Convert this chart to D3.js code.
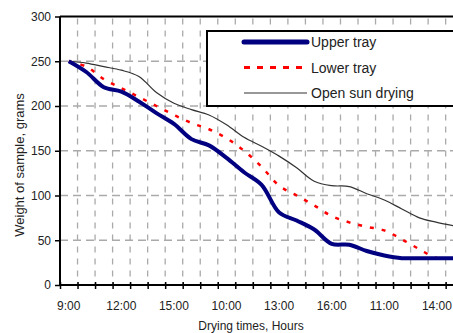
<!DOCTYPE html>
<html>
<head>
<meta charset="utf-8">
<script src="https://cdn.jsdelivr.net/npm/d3@7"></script>
<style>
  body { margin: 0; background: #fff; }
  svg { display: block; font-family: "Liberation Sans", Arial, sans-serif; }
  .axisText { fill: #222; }
</style>
</head>
<body>
<div id="chart"></div>
<script>
// hourly readings over three drying days
var times = ["9:00", "10:00", "11:00", "12:00", "13:00", "14:00", "15:00", "16:00",
             "9:00", "10:00", "11:00", "12:00", "13:00", "14:00", "15:00", "16:00",
             "9:00", "10:00", "11:00", "12:00", "13:00", "14:00", "15:00"];
var upperTray = [250, 238, 221, 216, 205, 192, 180, 163, 156, 142, 126, 112, 81, 72, 62, 46, 45, 38, 33, 30, 30, 30, 30];
var lowerTray = [250, 244, 230, 220, 210, 200, 190, 181, 174, 164, 150, 132, 111, 100, 89, 77, 70, 65, 61, 51, 40, 30, 30];
var openSun = [250, 248, 244, 240, 233, 215, 203, 196, 190, 179, 165, 155, 144, 131, 116, 111, 110, 102, 95, 85, 75, 70, 66];
var yTicks = [0, 50, 100, 150, 200, 250, 300];
var seriesNames = ["Upper tray", "Lower tray", "Open sun drying"];

var svgWidth = 453;
var svgHeight = 333;

var margin = { top: 16.5, left: 60 };
var step = 17.53;
var width = times.length * step;
var height = 268.5;

var svg = d3.select("#chart")
  .append("svg")
  .attr("width", svgWidth)
  .attr("height", svgHeight);

var chartGroup = svg.append("g")
  .attr("transform", `translate(${margin.left}, ${margin.top})`);

// scales
var xScale = d3.scaleLinear()
  .domain([0, times.length])
  .range([0, width]);

var yScale = d3.scaleLinear()
  .domain([0, 300])
  .range([height, 0]);

// dashed grid
chartGroup.append("g")
  .selectAll("line")
  .data(d3.range(1, times.length + 1))
  .enter()
  .append("line")
  .attr("x1", d => xScale(d))
  .attr("x2", d => xScale(d))
  .attr("y1", 0)
  .attr("y2", height)
  .attr("stroke", "#aaa")
  .attr("stroke-width", 1.3)
  .attr("stroke-dasharray", "6,6")
  .attr("stroke-dashoffset", -2);

chartGroup.append("g")
  .selectAll("line")
  .data(yTicks.filter(d => d > 0 && d < 300))
  .enter()
  .append("line")
  .attr("x1", 0)
  .attr("x2", width)
  .attr("y1", d => yScale(d))
  .attr("y2", d => yScale(d))
  .attr("stroke", "#aaa")
  .attr("stroke-width", 1.3)
  .attr("stroke-dasharray", "8,5");

// top border
chartGroup.append("line")
  .attr("x1", 0)
  .attr("x2", width)
  .attr("y1", 0)
  .attr("y2", 0)
  .attr("stroke", "#000")
  .attr("stroke-width", 2);

// lines
var line = d3.line()
  .x((d, i) => xScale(i + 0.5))
  .y(d => yScale(d))
  .curve(d3.curveCatmullRom.alpha(0.5));

chartGroup.append("path")
  .datum(openSun)
  .attr("d", line)
  .attr("fill", "none")
  .attr("stroke", "#333")
  .attr("stroke-width", 1.2);

chartGroup.append("path")
  .datum(lowerTray)
  .attr("d", line)
  .attr("fill", "none")
  .attr("stroke", "#ff0000")
  .attr("stroke-width", 2.5)
  .attr("stroke-dasharray", "4,8");

chartGroup.append("path")
  .datum(upperTray)
  .attr("d", line)
  .attr("fill", "none")
  .attr("stroke", "#000080")
  .attr("stroke-width", 4);

// axes
var yAxis = d3.axisLeft(yScale)
  .tickValues(yTicks)
  .tickSize(5)
  .tickPadding(4);

var yAxisGroup = chartGroup.append("g").call(yAxis);
yAxisGroup.select(".domain").attr("stroke-width", 2).attr("d", `M0,0V${height}`);
yAxisGroup.selectAll(".tick line").attr("stroke-width", 1.5);
yAxisGroup.selectAll("text")
  .attr("class", "axisText")
  .attr("font-size", "12px")
  .attr("font-family", "Liberation Sans, Arial, sans-serif");

var xAxis = d3.axisBottom(xScale)
  .tickValues(d3.range(0, times.length + 1))
  .tickSize(4)
  .tickFormat("");

var xAxisGroup = chartGroup.append("g")
  .attr("transform", `translate(0, ${height})`)
  .call(xAxis);
xAxisGroup.select(".domain").attr("stroke-width", 2).attr("d", `M0,0H${width}`);
xAxisGroup.selectAll(".tick line").attr("stroke-width", 1.5).attr("y1", -3);

// category labels every third hour
chartGroup.append("g")
  .selectAll("text")
  .data(d3.range(0, times.length, 3))
  .enter()
  .append("text")
  .attr("class", "axisText")
  .attr("x", d => xScale(d + 0.5))
  .attr("y", height + 25)
  .attr("text-anchor", "middle")
  .attr("font-size", "12px")
  .text(d => times[d]);

// axis titles
svg.append("text")
  .attr("class", "axisText")
  .attr("transform", "translate(24, 165) rotate(-90)")
  .attr("text-anchor", "middle")
  .attr("font-size", "13px")
  .text("Weight of sample, grams");

svg.append("text")
  .attr("class", "axisText")
  .attr("x", 251)
  .attr("y", 330)
  .attr("text-anchor", "middle")
  .attr("font-size", "12px")
  .text("Drying times, Hours");

// legend
var legend = svg.append("g").attr("transform", "translate(207, 31)");

legend.append("rect")
  .attr("width", 270)
  .attr("height", 75)
  .attr("fill", "#fff")
  .attr("stroke", "#000")
  .attr("stroke-width", 2);

var legendStyles = [
  { color: "#000080", width: 5, dash: null },
  { color: "#ff0000", width: 3, dash: "6,7" },
  { color: "#333", width: 1.2, dash: null }
];

seriesNames.forEach(function(name, i) {
  var rowY = 11 + i * 25.5;
  legend.append("line")
    .attr("x1", 37)
    .attr("x2", 100)
    .attr("y1", rowY)
    .attr("y2", rowY)
    .attr("stroke", legendStyles[i].color)
    .attr("stroke-width", legendStyles[i].width)
    .attr("stroke-linecap", i === 0 ? "round" : "butt")
    .attr("stroke-dasharray", legendStyles[i].dash);

  legend.append("text")
    .attr("class", "axisText")
    .attr("x", 104)
    .attr("y", rowY + 5)
    .attr("font-size", "14px")
    .text(name);
});
</script>
</body>
</html>
